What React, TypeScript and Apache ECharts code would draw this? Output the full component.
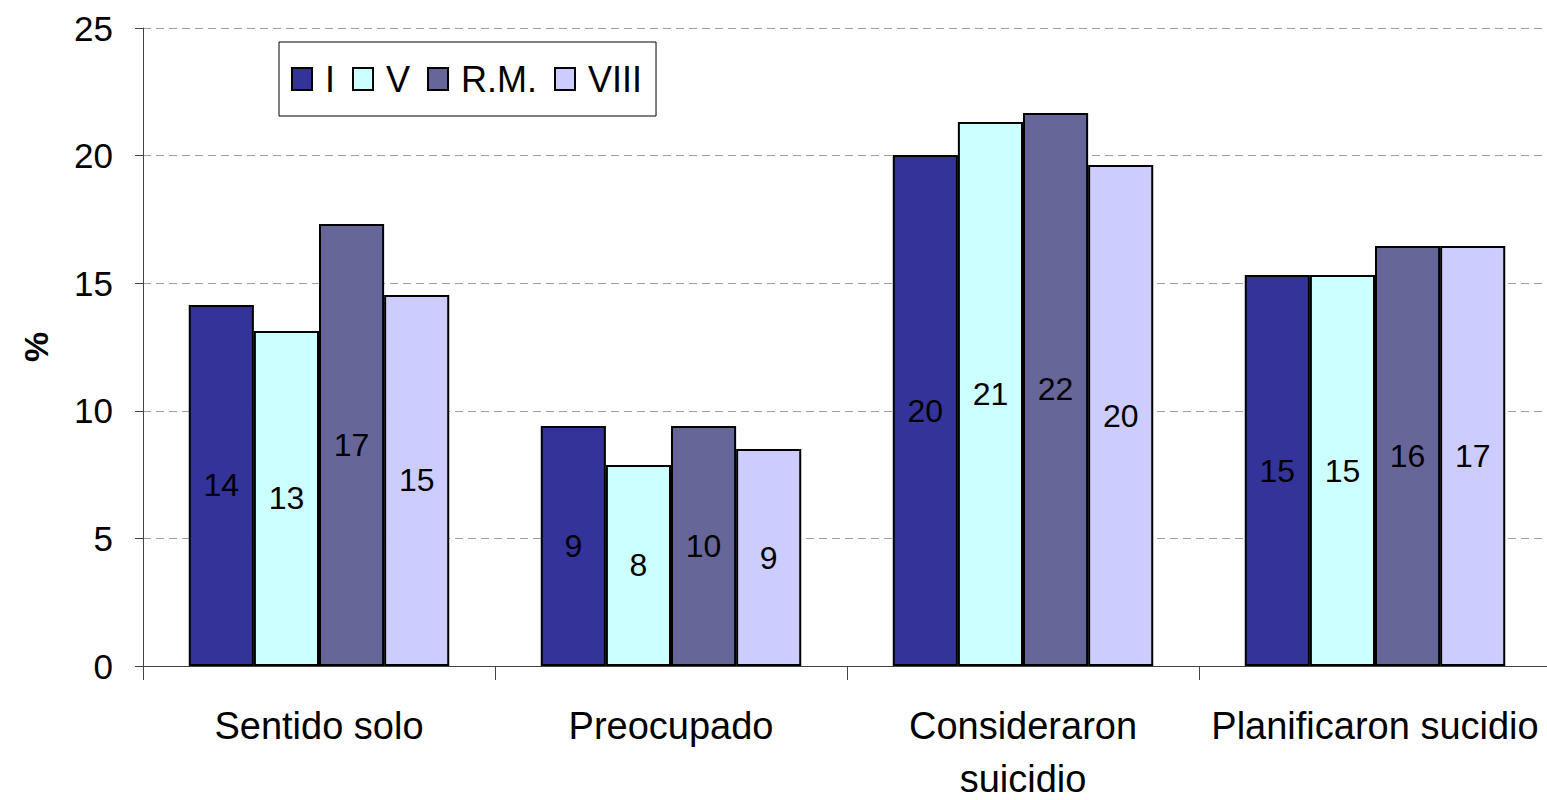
import React, { useEffect, useRef } from "react";
import * as echarts from "echarts";

const categories = ["Sentido solo", "Preocupado", "Consideraron\nsuicidio", "Planificaron sucidio"];
const seriesNames = ["I", "V", "R.M.", "VIII"];
const valuesI = [14.15, 9.4, 20.02, 15.32];
const valuesV = [13.13, 7.88, 21.32, 15.32];
const valuesRM = [17.32, 9.4, 21.67, 16.46];
const valuesVIII = [14.54, 8.5, 19.63, 16.46];
const labelsI = ["14", "9", "20", "15"];
const labelsV = ["13", "8", "21", "15"];
const labelsRM = ["17", "10", "22", "16"];
const labelsVIII = ["15", "9", "20", "17"];
const colors = ["#333399", "#CCFFFF", "#666699", "#CCCCFF"];

const FONT = "'Liberation Sans Narrow', 'Arial Narrow', 'Liberation Sans', Arial, sans-serif";

export default function App() {
  const ref = useRef<HTMLDivElement>(null);
  useEffect(() => {
    if (!ref.current) return;
    const chart = echarts.init(ref.current, null, { renderer: "svg" });
    const allValues = [valuesI, valuesV, valuesRM, valuesVIII];
    const allLabels = [labelsI, labelsV, labelsRM, labelsVIII];
    chart.setOption({
      animation: false,
      backgroundColor: "#ffffff",
      grid: { left: 143, top: 28, bottom: 134, right: -4, containLabel: false, outerBoundsMode: "none" },
      legend: {
        left: 279,
        top: 42,
        orient: "horizontal",
        data: seriesNames,
        icon: "rect",
        itemWidth: 20,
        itemHeight: 22,
        itemGap: 17,
        padding: [17, 14, 17, 12],
        borderColor: "#000",
        borderWidth: 1,
        backgroundColor: "#fff",
        textStyle: { fontFamily: FONT, fontSize: 36, color: "#000", lineHeight: 40, padding: [0, 0, 0, 8] },
      },
      xAxis: {
        type: "category",
        data: categories,
        axisLine: { lineStyle: { color: "#444", width: 1 } },
        axisTick: { show: true, length: 14, alignWithLabel: false, lineStyle: { color: "#444" } },
        axisLabel: { fontFamily: FONT, fontSize: 38, color: "#000", margin: 33, lineHeight: 53, interval: 0 },
      },
      yAxis: {
        type: "value",
        min: 0,
        max: 25,
        interval: 5,
        name: "%",
        nameLocation: "middle",
        nameRotate: 90,
        nameGap: 90,
        nameTextStyle: { fontFamily: FONT, fontSize: 34, fontWeight: "bold", color: "#000" },
        axisLine: { show: true, lineStyle: { color: "#444", width: 1 } },
        axisTick: { show: true, length: 8, lineStyle: { color: "#444" } },
        axisLabel: { fontFamily: FONT, fontSize: 35, color: "#000", margin: 30 },
        splitLine: { show: true, lineStyle: { color: "#a0a0a0", type: [8, 5], width: 1 } },
      },
      series: seriesNames.map((name, i) => ({
        name,
        type: "bar",
        data: allValues[i],
        barGap: "0%",
        barCategoryGap: "26%",
        itemStyle: { color: colors[i], borderColor: "#000", borderWidth: 2 },
        label: {
          show: true,
          position: "inside",
          fontFamily: FONT,
          fontSize: 32,
          color: "#000",
          formatter: (p: any) => allLabels[i][p.dataIndex],
        },
      })),
    });
    return () => chart.dispose();
  }, []);
  return (
    <div
      ref={ref}
      style={{ position: "fixed", left: 0, top: 0, width: 1547, height: 800, background: "#fff" }}
    />
  );
}
